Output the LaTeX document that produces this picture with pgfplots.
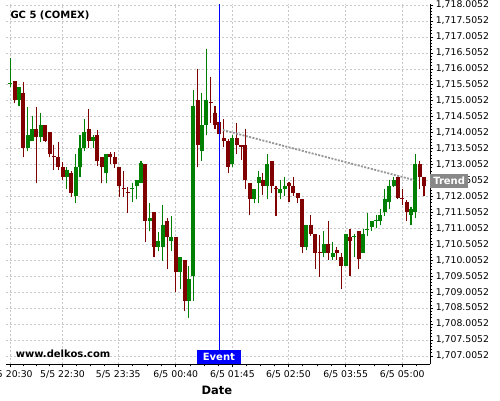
\documentclass[border=0pt]{standalone}
\usepackage{fontspec}
\setmainfont{DejaVu Sans}
\usepackage{pgfplots}
\usepackage{pgfplotstable}
\pgfplotsset{compat=1.18}
\definecolor{cgreen}{RGB}{0,128,0}
\definecolor{cred}{RGB}{128,0,0}
\definecolor{gridc}{RGB}{200,200,200}
\definecolor{trendc}{RGB}{150,150,150}
\definecolor{trendbox}{RGB}{136,136,136}

\pgfplotstableread{
i o h l c
0 1715.538 1716.334 1715.444 1715.560
2 1715.043 1715.425 1714.839 1715.425
4 1713.532 1714.817 1713.428 1713.921
5 1713.751 1714.526 1713.751 1714.118
7 1713.852 1714.610 1713.720 1714.243
13 1712.623 1712.936 1712.228 1712.833
15 1712.027 1713.325 1711.808 1712.936
16 1712.936 1713.930 1712.613 1713.532
17 1713.532 1714.422 1713.438 1714.024
19 1713.751 1713.930 1713.513 1713.858
22 1712.748 1713.334 1712.416 1713.334
28 1712.250 1712.416 1711.839 1712.269
29 1712.341 1712.519 1711.914 1712.519
30 1712.435 1713.115 1712.416 1713.043
32 1711.243 1711.808 1710.921 1711.319
34 1710.428 1710.899 1710.303 1710.607
35 1710.428 1711.736 1709.990 1711.109
37 1710.617 1711.400 1710.303 1710.742
39 1709.620 1710.096 1709.093 1710.096
41 1708.736 1709.814 1708.184 1709.416
42 1709.510 1715.341 1708.736 1714.839
44 1713.438 1715.237 1713.115 1714.243
45 1714.243 1716.617 1713.930 1715.027
51 1713.021 1713.930 1712.927 1713.836
56 1711.933 1712.237 1711.789 1712.237
57 1712.435 1712.811 1711.808 1712.604
59 1712.341 1713.334 1711.914 1713.021
62 1712.121 1712.519 1711.914 1712.237
63 1712.237 1712.604 1712.018 1712.331
68 1710.428 1711.109 1710.325 1711.109
72 1710.240 1710.911 1710.096 1710.513
74 1710.115 1710.585 1710.012 1710.240
77 1709.833 1710.827 1709.823 1710.827
79 1710.742 1710.827 1710.096 1710.764
81 1710.240 1710.993 1710.231 1710.827
82 1710.961 1711.494 1710.764 1710.974
83 1711.037 1711.234 1710.921 1711.234
84 1711.256 1711.422 1711.005 1711.265
85 1711.243 1711.601 1711.109 1711.422
86 1711.507 1712.237 1711.400 1711.924
87 1711.839 1712.519 1711.601 1712.331
88 1712.331 1712.604 1712.300 1712.519
92 1711.422 1711.664 1711.109 1711.601
93 1711.526 1713.325 1711.319 1713.021
}\up

\pgfplotstableread{
i o h l c
1 1715.623 1715.623 1714.924 1715.043
3 1715.247 1715.607 1713.231 1713.532
6 1714.118 1714.817 1712.416 1713.852
8 1714.243 1714.243 1713.710 1713.751
9 1714.024 1714.024 1713.231 1713.350
10 1713.281 1713.617 1712.833 1713.262
11 1713.250 1713.726 1712.833 1712.936
12 1712.936 1713.093 1712.519 1712.623
14 1712.748 1712.801 1711.996 1712.121
18 1714.118 1714.736 1713.532 1713.751
20 1713.921 1714.102 1712.943 1713.115
21 1713.231 1713.231 1712.416 1712.936
23 1713.334 1713.406 1713.021 1713.250
24 1713.231 1713.406 1712.905 1713.021
25 1712.917 1712.927 1711.996 1712.341
26 1712.269 1712.811 1711.996 1712.250
27 1712.153 1712.309 1711.494 1712.134
31 1713.021 1713.021 1710.585 1711.243
33 1711.507 1711.507 1710.096 1710.428
36 1711.234 1711.319 1709.720 1710.742
38 1710.742 1710.742 1708.999 1709.620
40 1710.012 1710.012 1708.413 1708.736
43 1715.027 1716.000 1712.917 1713.632
46 1714.955 1715.733 1714.322 1714.933
47 1714.629 1714.830 1714.109 1714.243
48 1714.338 1714.347 1713.899 1713.946
49 1713.845 1714.422 1713.554 1713.751
50 1713.751 1713.805 1712.729 1712.936
52 1713.836 1714.322 1713.334 1713.617
53 1713.617 1713.617 1713.146 1713.544
54 1713.617 1714.109 1712.228 1712.519
55 1712.416 1712.416 1711.422 1711.933
58 1712.519 1712.729 1712.049 1712.341
60 1713.115 1713.115 1712.121 1712.341
61 1712.269 1712.331 1711.400 1712.247
64 1712.435 1712.457 1711.839 1712.341
65 1712.341 1712.604 1712.018 1712.121
66 1712.121 1712.121 1711.808 1711.946
67 1711.924 1711.924 1710.222 1710.428
69 1711.109 1711.413 1710.764 1710.827
70 1710.827 1710.827 1709.720 1710.240
71 1710.253 1710.795 1709.488 1710.231
73 1710.513 1711.234 1710.012 1710.240
75 1710.325 1710.428 1710.012 1710.240
76 1710.115 1710.231 1709.093 1709.833
78 1710.732 1710.993 1709.510 1710.617
80 1710.921 1710.921 1709.720 1710.033
89 1712.604 1712.623 1711.924 1711.946
90 1711.955 1712.228 1711.736 1711.933
91 1711.820 1711.892 1711.234 1711.526
94 1713.021 1713.115 1712.228 1712.623
95 1712.613 1712.613 1712.008 1712.331
}\down

\pgfplotsset{candle/.style={draw=none, mark=none, error bars/.cd, y dir=plus, y explicit, error mark=none, error bar style={draw=#1}}}

\begin{document}
\begin{tikzpicture}
\useasboundingbox (0,0) rectangle (500pt,400pt);
\begin{axis}[
  at={(6pt,35.7pt)}, anchor=south west,
  scale only axis, width=424.3pt, height=360.3pt,
  xmin=-0.99, xmax=96.44, ymin=1706.742, ymax=1718.037,
  axis x line=bottom, axis y line=right,
  axis line style={-, black, line width=0.9pt},
  tick align=outside,
  major tick length=3pt, minor tick length=2pt,
  tick style={black, line width=0.6pt},
  xtick={0,12,24.8,38,51,63.85,77,90},
  xticklabels={5/5 20:30,5/5 22:30,5/5 23:35,6/5 00:40,6/5 01:45,6/5 02:50,6/5 03:55,6/5 05:00},
  minor xtick={3,6,9,15.2,18.4,21.6,28.1,31.4,34.7,41.25,44.5,47.75,54.2,57.4,60.6,67.1,70.4,73.7,80.25,83.5,86.75,93.25},
  ytick={1707.0052,1707.5052,1708.0052,1708.5052,1709.0052,1709.5052,1710.0052,1710.5052,1711.0052,1711.5052,1712.0052,1712.5052,1713.0052,1713.5052,1714.0052,1714.5052,1715.0052,1715.5052,1716.0052,1716.5052,1717.0052,1717.5052,1718.0052},
  yticklabels={{1,707.0052},{1,707.5052},{1,708.0052},{1,708.5052},{1,709.0052},{1,709.5052},{1,710.0052},{1,710.5052},{1,711.0052},{1,711.5052},{1,712.0052},{1,712.5052},{1,713.0052},{1,713.5052},{1,714.0052},{1,714.5052},{1,715.0052},{1,715.5052},{1,716.0052},{1,716.5052},{1,717.0052},{1,717.5052},{1,718.0052}},
  minor y tick num=4,
  scaled y ticks=false,
  ticklabel style={font=\fontsize{9.3}{10}\selectfont, text=black},
  yticklabel style={anchor=west, xshift=-1pt},
  grid=major,
  major grid style={gridc, dash pattern=on 2pt off 2pt, line width=0.6pt},
  clip=true,
]
% wicks
\addplot[candle=cgreen, /pgfplots/error bars/error bar style={line width=1.1pt}]
  table[x=i, y=l, y error expr=\thisrow{h}-\thisrow{l}] {\up};
\addplot[candle=cred, /pgfplots/error bars/error bar style={line width=1.1pt}]
  table[x=i, y=l, y error expr=\thisrow{h}-\thisrow{l}] {\down};
% bodies
\addplot[candle=cgreen, /pgfplots/error bars/error bar style={line width=4pt}]
  table[x=i, y=o, y error expr=\thisrow{c}-\thisrow{o}] {\up};
\addplot[candle=cred, /pgfplots/error bars/error bar style={line width=4pt}]
  table[x=i, y=c, y error expr=\thisrow{o}-\thisrow{c}] {\down};
% trend line
\addplot[trendc, line width=1.8pt, dash pattern=on 2pt off 1.4pt] coordinates {(48.8,1714.087) (92.7,1712.519)};
% event line
\draw[blue, line width=1pt] (axis cs:48,1706.742) -- (axis cs:48,1718.037);
\end{axis}
\node[fill=blue, text=white, font=\fontsize{10}{11}\selectfont\bfseries, minimum width=43.7pt, minimum height=14.3pt, inner sep=0pt] at (218.9pt,42.85pt) {Event};
\node[fill=trendbox, text=white, font=\fontsize{10}{11}\selectfont\bfseries, minimum width=37.7pt, minimum height=13.4pt, inner sep=0pt] at (449.15pt,219pt) {Trend};
\node[anchor=west, font=\fontsize{10}{11}\selectfont\bfseries, inner sep=0pt] at (10.3pt,384.3pt) {GC 5 (COMEX)};
\node[anchor=west, font=\fontsize{10}{11}\selectfont\bfseries, inner sep=0pt] at (15.7pt,46pt) {www.delkos.com};
\node[font=\fontsize{11.5}{12}\selectfont\bfseries, inner sep=0pt] at (216.8pt,10pt) {Date};
\end{tikzpicture}
\end{document}
